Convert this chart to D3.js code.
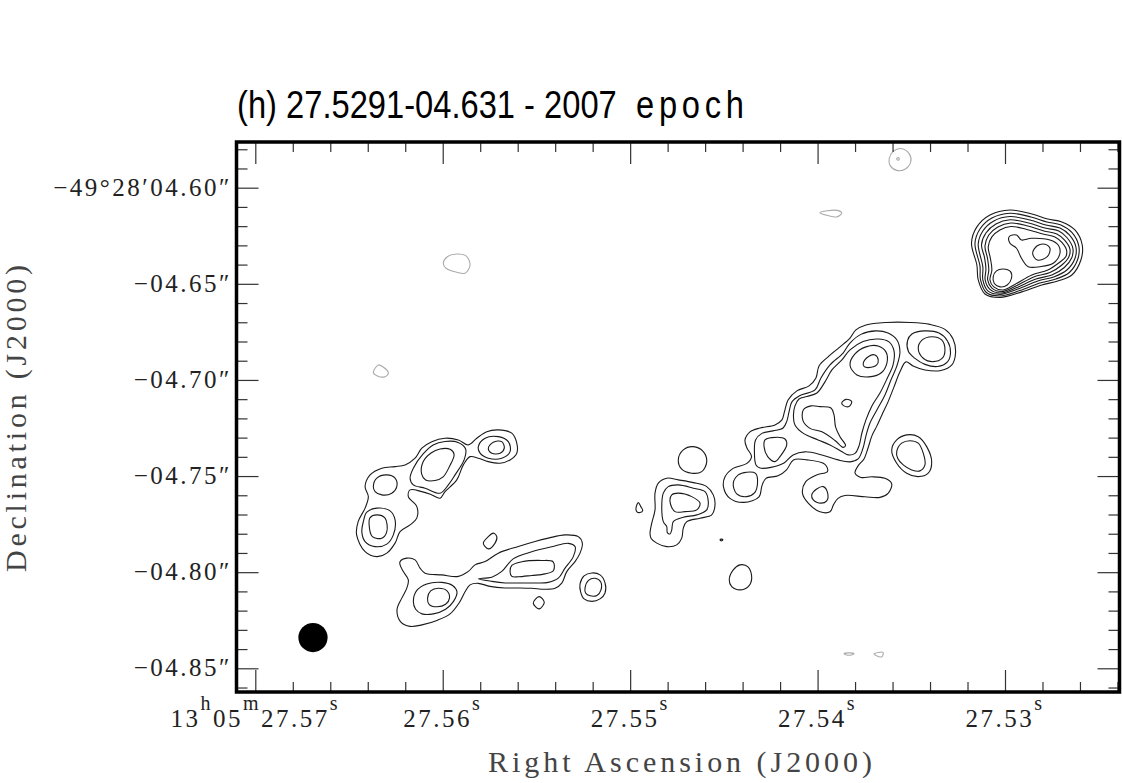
<!DOCTYPE html>
<html>
<head>
<meta charset="utf-8">
<script src="https://cdn.jsdelivr.net/npm/d3@7"></script>
<style>
body{margin:0;background:#fff;}
svg{display:block;}
</style>
</head>
<body>
<svg id="chart" width="1122" height="783"></svg>
<script>
// reference spot of the title, every contour below is an offset in mas (east, north)
const refRA = 27.5291;   // 13h05m27.5291s
const refDec = -4.631;   // -49d28m04.631s
const decDeg = -(49 + 28 / 60 + 4.631 / 3600);

const titleMain = "(h) 27.5291-04.631 - 2007";
const titleTail = "epoch";

const xMajor = [27.57, 27.56, 27.55, 27.54, 27.53];
const xMajorLabels = ["13h05m27.57s", "27.56s", "27.55s", "27.54s", "27.53s"];
const yMajor = [-4.60, -4.65, -4.70, -4.75, -4.80, -4.85];
const yMajorLabels = ["\u221249\u00b028\u203204.60\u2033", "\u221204.65\u2033", "\u221204.70\u2033", "\u221204.75\u2033", "\u221204.80\u2033", "\u221204.85\u2033"];

const beamOffset = [368.7, -203.0];
const beamSize = 15.2; // mas

// north-east knot (the named spot)
const anchorA = [0, 0];
const ringsA = [
 [[26.2,2.2],[23.4,10.6],[16.6,16.8],[6.2,19.4],[-5.2,17.3],[-13.5,14.7],[-20.8,13.2],[-27.6,9.0],[-31.4,1.2],[-30.7,-6.6],[-26,-14.4],[-18.7,-17.5],[-10.4,-19.6],[0,-23.2],[11.4,-26.1],[19.2,-24.3],[22.7,-17.0],[23.4,-9.2]],
 [[24.4,2.0],[21.8,9.5],[15.6,15.2],[6.2,17.7],[-4.7,15.8],[-13,13.2],[-20.3,11.6],[-26,7.7],[-29.6,0.7],[-29.1,-6.1],[-24.7,-13.1],[-17.7,-16.5],[-9.4,-18.6],[1.0,-22.5],[11.4,-25.3],[18.5,-23.5],[21.5,-17.0],[21.8,-9.7]],
 [[22.7,1.7],[20.3,8.5],[14.6,13.7],[6.2,16.0],[-4.2,14.2],[-12.5,11.6],[-19.8,10.0],[-24.7,6.4],[-28.1,0.2],[-27.6,-5.8],[-23.4,-11.8],[-16.6,-15.4],[-8.3,-17.5],[2.1,-21.7],[11.4,-24.5],[17.7,-22.7],[20.3,-17.0],[20.3,-10.2]],
 [[21.0,1.2],[18.7,7.4],[13.5,12.1],[6.2,14.3],[-3.6,12.6],[-12.0,10.0],[-19.2,8.5],[-23.4,5.1],[-26.5,-0.4],[-26,-5.3],[-22.1,-10.5],[-15.6,-14.4],[-7.3,-16.5],[2.6,-20.9],[10.9,-23.8],[16.6,-21.9],[19.1,-17.0],[18.7,-11.3],[19.5,-5.0]],
 [[19.2,0.7],[17.2,6.4],[12.5,10.6],[5.7,12.6],[-3.1,11.1],[-11.4,8.5],[-18.2,6.9],[-22.1,3.8],[-25.0,-0.9],[-24.4,-5.0],[-20.8,-9.2],[-14.6,-13.1],[-6.2,-15.4],[3.1,-20.1],[10.4,-23.0],[15.6,-21.2],[17.8,-17.0],[17.2,-11.8],[17.9,-5.6]],
 [[17.5,0.2],[15.6,5.4],[11.4,9.0],[5.7,10.8],[-2.6,9.3],[-10.9,6.9],[-17.2,5.4],[-20.8,2.5],[-23.2,-1.4],[-22.9,-4.8],[-19.5,-7.9],[-13.5,-11.8],[-5.2,-14.4],[3.6,-19.3],[9.9,-22.2],[14.6,-20.6],[16.6,-17.0],[15.6,-11.8],[16.4,-5.6]],
 [[6.6,5.5],[2.8,6.4],[0.2,3.8],[-5.0,4.7],[-14.6,3.8],[-18.9,1.2],[-19.8,-3.1],[-16.3,-8.3],[-9.4,-10.1],[-3.3,-10.1],[0.2,-5.7],[2.8,-0.5],[6.2,2.1]],
 [[14.9,-15.3],[13.2,-12.3],[9.7,-11.3],[5.9,-12.7],[5.4,-16.1],[7.6,-19.6],[11.4,-20.6],[14.4,-18.7]],
 [[-5.6,-3.1],[-8.0,0.8],[-12.0,1.6],[-14.6,-0.5],[-13.2,-4.9],[-8.0,-6.6]]
];

// central ridge
const anchorB = [89.4, -89.8];
const ringsB = [
 [[54.6,-10.4],[52.0,-6.2],[46.8,-4.2],[39.0,-2.6],[35.4,0],[34.1,4.2],[32.2,10.4],[27.6,15.1],[21.3,17.7],[17.7,21.8],[16.1,28.1],[11.4,32.8],[5.2,38.0],[0,42.6],[-3.1,46.8],[-8.3,49.4],[-19.2,50.7],[-31.2,50.7],[-41.6,49.7],[-49.4,47.1],[-53.6,42.1],[-54.9,34.8],[-53.0,28.6],[-47.3,25.7],[-39.0,26.0],[-32.8,28.1],[-29.1,30.2],[-26.0,25.0],[-22.9,17.2],[-19.8,9.4],[-16.6,2.6],[-14.0,-3.1],[-11.4,-8.3],[-9.4,-14.6],[-7.3,-20.3],[-4.2,-23.9],[-2.6,-27.6],[-5.7,-29.9],[-11.4,-29.6],[-18.2,-30.4],[-21.7,-33.3],[-19.8,-38.2],[-15.6,-40.3],[-7.8,-40.0],[2.6,-39.3],[6.2,-40.8],[8.6,-44.2],[10.4,-47.8],[15.6,-47.8],[21.6,-43.4],[24.7,-38.2],[23.1,-32.2],[17.4,-28.6],[11.7,-26.8],[13.0,-23.1],[22.4,-20.8],[29.4,-20.8],[33.0,-26.0],[37.4,-29.1],[43.7,-30.4],[45.8,-34.3],[47.3,-40.0],[55.1,-42.9],[62.4,-40.8],[65.8,-34.8],[65.0,-29.6],[60.8,-25.2],[53.6,-22.6],[51.2,-19.0],[53.6,-14.6]],
 [[48.9,-23.4],[49.7,-16.6],[49.1,-10.4],[45.8,-7.0],[40.0,-5.7],[34.8,-4.2],[32.8,-0.5],[31.7,4.2],[30.2,9.4],[26.0,12.7],[18.2,15.6],[15.1,21.8],[10.4,28.6],[3.6,34.8],[0,40.0],[-5.7,44.5],[-13.5,46.3],[-19.8,45.2],[-24.4,41.6],[-26.0,35.4],[-24.4,28.1],[-21.3,20.8],[-18.2,13.0],[-14.0,5.2],[-10.4,-1.6],[-8.3,-8.3],[-6.8,-14.6],[-4.2,-20.3],[0,-21.8],[6.2,-20.8],[14.6,-18.2],[23.4,-16.6],[29.6,-18.2],[34.3,-22.4],[41.1,-24.7],[46.8,-25.0]],
 [[29.4,2.6],[28.6,7.3],[26.5,10.9],[22.4,12.2],[17.2,14.0],[13.0,19.8],[9.4,26.0],[4.2,31.2],[0,36.4],[-6.8,40.8],[-14.6,42.1],[-20.3,40.6],[-22.9,35.9],[-22.4,28.6],[-19.2,21.3],[-15.6,14.0],[-11.4,7.3],[-8.3,0],[-6.2,-6.8],[-4.7,-13.5],[-2.6,-17.4],[1.0,-18.2],[4.4,-16.4],[10.4,-13.0],[16.6,-10.4],[24.2,-7.0],[28.6,-2.6]],
 [[0,28.6],[-2.6,34.3],[-8.3,38.0],[-14.6,38.5],[-18.7,35.4],[-19.2,29.6],[-16.1,24.4],[-9.9,22.4],[-3.6,23.4]],
 [[-6.9,29.5],[-9.5,32.9],[-13.0,33.8],[-14.7,31.2],[-13.9,28.6],[-9.5,27.2],[-7.4,27.7]],
 [[4.3,8.8],[2.1,10.7],[-0.9,9.6],[0.5,7.0],[3.1,7.3]],
 [[24.3,5.2],[20.3,7.3],[15.6,6.9],[9.9,6.2],[8.3,2.6],[7.5,-3.6],[5.2,-8.7],[2.3,-13.3],[3.6,-14.3],[7.8,-10.7],[14.6,-6.2],[20.8,-4.4],[24.4,-0.5]],
 [[44.2,-10.4],[40.7,-9.2],[33.8,-9.9],[32.9,-13.0],[36.4,-19.1],[39.0,-21.7],[42.8,-19.1],[44.7,-13.9]],
 [[60.7,-32.9],[58.1,-28.6],[53.7,-27.2],[49.1,-27.8],[48.1,-32.9],[49.7,-38.0],[53.7,-39.9],[58.9,-38.5]],
 [[19.9,-39.0],[17.3,-35.9],[13.9,-34.7],[11.6,-38.1],[12.1,-42.1],[15.1,-43.3],[19.1,-41.6]],
 [[-21.7,-15.6],[-24.3,-10.4],[-29.5,-7.8],[-35.5,-8.7],[-39.9,-13.9],[-42.5,-21.7],[-40.7,-27.7],[-35.5,-29.5],[-29.5,-27.7],[-24.3,-22.5]],
 [[-24.3,-16.5],[-26.9,-12.1],[-31.2,-10.8],[-35.5,-12.1],[-38.1,-17.3],[-39.0,-23.4],[-36.4,-26.5],[-32.1,-26.0],[-27.7,-23.4],[-24.8,-19.9]],
 [[-30.4,35.6],[-29.9,41.1],[-32.2,44.7],[-39.0,46.3],[-46.3,45.2],[-50.7,41.1],[-52.3,35.1],[-50.7,30.2],[-45.5,27.8],[-39.0,28.9],[-33.8,32.0]],
 [[-35.5,37.3],[-37.6,41.6],[-42.5,43.3],[-47.7,41.6],[-49.4,36.4],[-48.0,32.1],[-43.3,30.3],[-38.1,32.1]]
];

// spots south of the ridge
const anchorP = [177.8, -141.8];
const ringsP = [
 [[15.6,-6.9],[14.7,-1.7],[13.0,5.2],[13.0,13.9],[11.3,19.1],[6.9,21.7],[0.9,20.8],[-6.9,19.4],[-13.9,17.3],[-17.3,13.0],[-18.2,7.8],[-16.5,2.6],[-10.4,0.9],[-3.5,-0.9],[-1.7,-4.3],[-0.9,-9.5],[1.7,-13.0],[6.9,-13.9],[12.1,-12.1],[15.1,-9.5]],
 [[8.7,-0.9],[9.5,6.9],[8.7,13.9],[6.1,17.3],[0.9,18.2],[-6.9,16.5],[-13.0,14.7],[-14.7,9.5],[-13.9,5.2],[-8.7,2.6],[-1.7,1.4],[3.5,-0.9],[4.3,-5.2],[5.2,-7.3],[6.6,-6.6],[6.9,-3.5]],
 [[5.2,9.5],[4.3,13.0],[0.9,13.9],[-6.1,12.1],[-10.4,8.7],[-8.7,5.2],[-2.6,4.3],[2.6,4.3]],
 [[0.9,31.2],[-1.7,36.4],[-6.9,38.1],[-12.1,35.5],[-13.9,30.3],[-11.3,25.1],[-6.1,24.3],[-0.9,26.4]],
 [[22.9,6.1],[21.7,9.0],[20.4,6.9],[19.4,4.8],[20.8,3.8],[22.5,4.3]],
 [[-20.8,-10.4],[-21.6,-10.0],[-22.3,-10.4],[-21.5,-10.9]],
 [[-25.6,-31.2],[-27.7,-26.0],[-31.2,-23.4],[-35.5,-24.6],[-37.3,-30.3],[-35.5,-34.7],[-31.2,-36.4],[-26.9,-34.7]],
 [[52.0,-33.3],[49.9,-29.1],[45.8,-27.6],[41.6,-28.6],[39.0,-32.8],[39.0,-38.0],[41.6,-41.1],[45.8,-42.4],[49.9,-41.1],[51.7,-37.4]],
 [[49.4,-35.4],[47.6,-31.5],[44.2,-30.4],[41.3,-32.2],[41.1,-36.4],[43.2,-39.3],[46.8,-39.5],[49.1,-38.0]]
];

// south-west arc and bar
const anchorC = [297.4, -157.4];
const ringsC = [
 [[48.6,7.8],[47.8,14.7],[44.2,21.7],[42.5,27.7],[44.2,32.9],[41.6,39.0],[35.5,42.5],[28.6,43.3],[23.4,44.2],[18.2,47.7],[14.7,52.9],[9.5,56.3],[2.6,58.1],[-4.3,57.2],[-9.5,54.6],[-13.9,58.1],[-19.1,61.5],[-25.1,62.4],[-32.1,60.7],[-34.7,55.5],[-34.7,50.3],[-31.2,46.8],[-26.0,45.1],[-19.9,45.9],[-14.7,47.7],[-10.4,48.5],[-6.9,44.2],[-3.5,36.4],[2.6,30.3],[5.2,26.9],[9.5,28.6],[14.7,30.3],[20.8,31.2],[21.7,27.7],[17.3,22.5],[17.3,16.5],[20.8,13.0],[26.0,9.5],[28.6,3.5],[32.9,-1.7],[38.1,-3.5],[44.2,-0.9]],
 [[20.8,37.3],[19.1,42.5],[14.0,49.9],[8.8,54.6],[2.6,56.4],[-4.2,55.9],[-8.1,52.5],[-7.3,46.8],[-2.6,39.0],[0.9,33.8],[5.2,29.5],[13.0,32.1],[19.1,33.8]],
 [[14.0,45.8],[9.9,50.4],[5.2,52.5],[0,52.3],[-2.1,49.7],[0.3,43.4],[3.6,38.0],[7.8,36.1],[12.7,36.4],[14.8,39.5]],
 [[-14.7,53.7],[-18.2,58.1],[-25.1,58.9],[-30.3,56.3],[-31.2,51.1],[-26.9,47.7],[-19.9,47.7],[-15.6,50.3]],
 [[-19.9,52.9],[-22.5,56.0],[-26.9,56.3],[-28.2,52.9],[-26.0,50.3],[-21.7,50.3]],
 [[39.9,32.9],[38.1,37.3],[32.9,39.0],[28.6,37.3],[27.7,32.9],[30.3,29.5],[35.5,28.6],[39.0,30.3]],
 [[45.1,14.7],[43.3,19.6],[38.1,21.7],[31.2,20.3],[28.6,15.6],[29.5,7.8],[32.9,3.0],[39.0,1.7],[44.2,4.3],[45.9,9.5]],
 [[42.1,13.0],[41.6,16.8],[38.1,18.2],[33.8,16.5],[32.9,9.5],[35.5,6.1],[40.4,6.9]],
 [[26.0,-7.8],[26.0,-6.1],[22.5,-4.3],[18.2,-5.2],[15.6,-9.5],[13.0,-12.1],[4.3,-13.0],[-4.3,-13.8],[-9.5,-11.2],[-13.0,-7.8],[-18.2,-6.1],[-25.1,-1.7],[-35.5,1.8],[-44.2,4.4],[-51.1,6.1],[-59.8,7.8],[-66.7,6.9],[-68.8,3.5],[-67.6,-1.7],[-65.0,-6.1],[-60.7,-11.3],[-58.1,-17.3],[-54.6,-20.0],[-49.4,-20.5],[-42.5,-20.0],[-36.4,-19.8],[-28.6,-19.8],[-20.8,-19.0],[-14.6,-17.4],[-10.4,-18.2],[-7.8,-21.8],[-4.7,-27.6],[0,-33.3],[6.8,-36.7],[14.6,-39.0],[20.8,-39.8],[25.7,-37.4],[27.6,-31.2],[25.1,-25.1],[22.5,-19.9],[21.7,-15.6],[24.3,-11.3]],
 [[-14.7,-15.0],[-21.7,-14.2],[-26.9,-11.2],[-32.8,-4.7],[-42.5,-1.0],[-52.9,1.6],[-61.5,3.4],[-65.0,1.7],[-64.1,-3.5],[-59.8,-9.5],[-56.3,-14.7],[-51.1,-16.9],[-44.2,-17.2],[-35.5,-17.2],[-28.6,-17.2],[-21.8,-16.4]],
 [[-31.2,-11.4],[-32.1,-8.1],[-37.3,-6.2],[-47.7,-5.5],[-53.6,-6.2],[-53.8,-10.7],[-49.4,-12.5],[-42.5,-13.3],[-35.5,-14.0],[-32.1,-13.8]],
 [[19.1,-26.9],[17.3,-21.1],[12.1,-17.7],[4.3,-16.9],[-1.3,-18.5],[-3.6,-21.8],[-1.8,-26.8],[2.3,-30.9],[8.7,-33.3],[14.6,-33.3],[17.9,-30.9]],
 [[11.7,-25.1],[10.1,-21.3],[6.1,-20.0],[1.6,-21.3],[0.3,-25.1],[2.3,-28.3],[6.9,-29.6],[10.9,-28.3]],
 [[-17.3,3.5],[-19.9,6.9],[-22.5,8.7],[-24.3,6.9],[-23.4,3.5],[-19.9,0.5]],
 [[-43.3,-27.7],[-46.3,-24.3],[-49.0,-27.2],[-46.4,-30.7]]
];

// lowest (grey) contour level
const anchorF1 = [73.8, 35.0];
const faintF1 = [
 [[-4.8,11.1],[-6.9,14.9],[-11.3,16.3],[-15.2,13.7],[-16.0,9.4],[-13.0,5.6],[-8.7,5.0],[-5.2,7.6]],
 [[-8.7,11.2],[-9.7,11.6],[-10.0,10.7],[-9.1,10.4]],
 [[31.2,-17.0],[22.2,-15.8],[19.9,-17.2],[22.5,-19.2],[27.0,-18.5]]
];
const anchorF2 = [313.0, -27.4];
const faintF2 = [
 [[-12.1,19.1],[-14.2,22.5],[-19.1,23.9],[-23.9,22.9],[-26.0,18.2],[-23.4,13.9],[-19.1,14.4],[-13.5,16.5]],
 [[24.3,-37.8],[21.7,-33.8],[19.4,-34.7],[16.5,-37.8],[18.2,-39.9],[22.2,-39.5]]
];
const anchorF3 = [84.2, -212.0];
const faintF3 = [
 [[8.3,0.5],[5.7,1.0],[3.1,0.5],[5.7,-0.2]],
 [[-7.3,0.5],[-12.0,1.3],[-11.4,-1.0],[-8.3,-0.3]]
];

const width = 1122, height = 783;
const frame = {left: 236.5, right: 1119.5, top: 142, bottom: 692};

const svg = d3.select("#chart");

const x = d3.scaleLinear().domain([27.571003, 27.523891]).range([frame.left, frame.right]);
const y = d3.scaleLinear().domain([-4.57623, -4.86233]).range([frame.top, frame.bottom]);

const cosDec = Math.cos(decDeg * Math.PI / 180);
function raOf(dx){ return refRA + dx / (15000 * cosDec); }
function decOf(dy){ return refDec + dy / 1000; }

function drawRings(anchor, rings, colour){
    let line = d3.line()
        .x(p => x(raOf(anchor[0] + p[0])))
        .y(p => y(decOf(anchor[1] + p[1])))
        .curve(d3.curveCatmullRomClosed.alpha(0.5));
    svg.append("g")
        .selectAll("path")
        .data(rings)
        .enter()
        .append("path")
        .attr("d", line)
        .attr("fill", "none")
        .attr("stroke", colour)
        .attr("stroke-width", 1.1)
        .attr("stroke-linejoin", "round");
}

drawRings(anchorF1, faintF1, "#aaaaaa");
drawRings(anchorF2, faintF2, "#aaaaaa");
drawRings(anchorF3, faintF3, "#aaaaaa");
drawRings(anchorA, ringsA, "#1a1a1a");
drawRings(anchorB, ringsB, "#1a1a1a");
drawRings(anchorP, ringsP, "#1a1a1a");
drawRings(anchorC, ringsC, "#1a1a1a");

// beam
let beamY = y(decOf(beamOffset[1]));
svg.append("circle")
    .attr("cx", x(raOf(beamOffset[0])))
    .attr("cy", beamY)
    .attr("r", Math.abs(y(decOf(beamOffset[1] + beamSize / 2)) - beamY))
    .attr("fill", "#000");

// ticks, all pointing into the box
const notMajor = (list) => (v) => list.every(m => Math.abs(m - v) > 1e-6);
const xMinor = x.ticks(24).filter(notMajor(xMajor));
const yMinor = y.ticks(29).filter(notMajor(yMajor));

function tickRow(axis, values, size, transform){
    let g = svg.append("g")
        .attr("transform", transform)
        .call(axis.tickValues(values).tickSizeInner(-size).tickSizeOuter(0).tickFormat(""));
    g.select(".domain").remove();
    g.selectAll("line").attr("stroke", "#333").attr("stroke-width", 1.2);
}
tickRow(d3.axisBottom(x), xMajor, 22, "translate(0," + frame.bottom + ")");
tickRow(d3.axisBottom(x), xMinor, 10, "translate(0," + frame.bottom + ")");
tickRow(d3.axisTop(x), xMajor, 22, "translate(0," + frame.top + ")");
tickRow(d3.axisTop(x), xMinor, 10, "translate(0," + frame.top + ")");
tickRow(d3.axisLeft(y), yMajor, 22, "translate(" + frame.left + ",0)");
tickRow(d3.axisLeft(y), yMinor, 11, "translate(" + frame.left + ",0)");
tickRow(d3.axisRight(y), yMajor, 22, "translate(" + frame.right + ",0)");
tickRow(d3.axisRight(y), yMinor, 11, "translate(" + frame.right + ",0)");

// frame
svg.append("rect")
    .attr("x", frame.left)
    .attr("y", frame.top)
    .attr("width", frame.right - frame.left)
    .attr("height", frame.bottom - frame.top)
    .attr("fill", "none")
    .attr("stroke", "#000")
    .attr("stroke-width", 3.5);

const labelFont = "'Liberation Serif', 'DejaVu Serif', serif";

// RA labels with raised h m s
svg.append("g")
    .selectAll("text")
    .data(xMajor)
    .enter()
    .append("text")
    .attr("x", d => x(d))
    .attr("y", 727)
    .attr("text-anchor", "middle")
    .attr("font-family", labelFont)
    .attr("font-size", 25)
    .attr("letter-spacing", 2.5)
    .attr("fill", "#222")
    .each(function(d, i){
        let t = d3.select(this);
        let raised = false;
        xMajorLabels[i].split(/([hms])/).filter(s => s.length).forEach(part => {
            let sup = /^[hms]$/.test(part);
            let span = t.append("tspan").text(part);
            if (sup && !raised) { span.attr("dy", -17); raised = true; }
            if (!sup && raised) { span.attr("dy", 17); raised = false; }
            if (sup) span.attr("font-size", 20);
        });
    });

// Dec labels
svg.append("g")
    .selectAll("text")
    .data(yMajor)
    .enter()
    .append("text")
    .attr("x", 232)
    .attr("y", d => y(d) + 8)
    .attr("text-anchor", "end")
    .attr("font-family", labelFont)
    .attr("font-size", 25)
    .attr("letter-spacing", 2.5)
    .attr("fill", "#222")
    .text((d, i) => yMajorLabels[i]);

// axis titles
svg.append("text")
    .attr("x", 488)
    .attr("y", 772)
    .attr("font-family", labelFont)
    .attr("font-size", 30)
    .attr("fill", "#444")
    .attr("textLength", 384)
    .attr("lengthAdjust", "spacing")
    .text("Right Ascension (J2000)");

svg.append("text")
    .attr("transform", "translate(26,572) rotate(-90)")
    .attr("x", 0)
    .attr("y", 0)
    .attr("font-family", labelFont)
    .attr("font-size", 30)
    .attr("fill", "#444")
    .attr("textLength", 307)
    .attr("lengthAdjust", "spacing")
    .text("Declination (J2000)");

// title: narrow face, "epoch" spread out
const titleFont = "'Liberation Sans Narrow', 'Arial Narrow', 'Liberation Sans', Arial, sans-serif";
let t1 = svg.append("text")
    .attr("font-family", titleFont)
    .attr("font-size", 39)
    .attr("fill", "#000")
    .text(titleMain);
let sx = 380 / t1.node().getComputedTextLength();
t1.attr("transform", "translate(237,118) scale(" + sx + ",1)");

let t2 = svg.append("text")
    .attr("font-family", titleFont)
    .attr("font-size", 39)
    .attr("fill", "#000")
    .text(titleTail);
let spread = (108 / sx - t2.node().getComputedTextLength()) / (titleTail.length - 1);
t2.attr("letter-spacing", spread)
    .attr("transform", "translate(636,118) scale(" + sx + ",1)");
</script>
</body>
</html>
